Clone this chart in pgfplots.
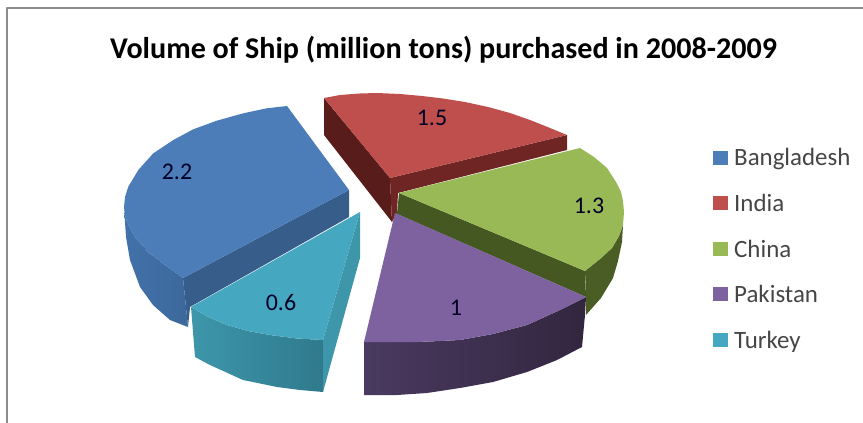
\documentclass[border=0pt]{standalone}
\usepackage{pgfplots}
\pgfplotsset{compat=1.18}
\usepackage{fontspec}
\setmainfont{Carlito}
\definecolor{blueTop}{HTML}{4C7DB8}
\definecolor{blueWallA}{HTML}{4272AA}
\definecolor{blueWallB}{HTML}{3C689C}
\definecolor{blueIn}{HTML}{375D8B}
\definecolor{redTop}{HTML}{BE4F4C}
\definecolor{redIn}{HTML}{6E2523}
\definecolor{redLeft}{HTML}{581D1B}
\definecolor{greenTop}{HTML}{99B956}
\definecolor{greenIn}{HTML}{465822}
\definecolor{greenWall}{HTML}{4A5D24}
\definecolor{purpleTop}{HTML}{7E62A0}
\definecolor{purpleWallA}{HTML}{4A3A60}
\definecolor{purpleWallB}{HTML}{32263F}
\definecolor{tealTop}{HTML}{46A8C0}
\definecolor{tealWallA}{HTML}{3D96AB}
\definecolor{tealWallB}{HTML}{2F7A8C}
\definecolor{tealRight}{HTML}{3D96AA}
\definecolor{legendText}{HTML}{454545}
\definecolor{frameGray}{HTML}{8C8C8C}
\begin{document}
\begin{tikzpicture}
\begin{axis}[
  scale only axis, width=863bp, height=423bp,
  xmin=0, xmax=863, ymin=0, ymax=423, y dir=reverse,
  axis line style={draw=none}, ticks=none, clip=true,
  every axis plot/.append style={draw=none, mark=none, line join=round},
]
% chart frame
\addplot[draw=frameGray, line width=2pt] coordinates {(7,423) (7,8) (863,8)};

% India
\addplot[fill=redLeft] coordinates {(324,98) (390,178) (392,222) (324,135)} -- cycle;
\addplot[fill=redIn] coordinates {(390,178) (567,135) (567,150) (398,193) (397,213) (392,222)} -- cycle;
\addplot[fill=redTop] coordinates {(324,98) (340,95) (360,93.5) (377,93) (400,94) (422,96) (443,98.5) (465,102) (488,107) (510,113) (530,120) (550,128) (567,135) (390,178)} -- cycle;

% China
\addplot[fill=greenIn] coordinates {(399,193) (585,271) (586,297) (397,214)} -- cycle;
\addplot[fill=greenWall] coordinates {(585,271) (600,259) (612,248) (619,236) (623,225) (622,242) (618,261) (613,278) (601,298) (586,315) (586,290)} -- cycle;
\addplot[fill=greenTop] coordinates {(580,148) (594,157) (607,168) (616,182) (621,192) (623,201) (624,212) (623,225) (619,236) (612,248) (600,259) (585,271) (399,193)} -- cycle;

% Pakistan
\addplot[left color=purpleWallA, right color=purpleWallB] coordinates {(364,342) (390,342) (417,342) (440,341) (460,340) (493,334) (527,325) (560,310) (586,297) (585,315) (582,347) (557,360) (527,372) (493,382) (460,388) (427,393) (397,395) (364,395)} -- cycle;
\addplot[fill=purpleTop] coordinates {(395,213) (586,297) (560,310) (527,325) (493,334) (460,340) (440,341) (417,342) (390,342) (364,342)} -- cycle;

% Bangladesh
\addplot[fill=blueIn] coordinates {(183,278) (349,190) (349,217) (190,307) (188,327)} -- cycle;
\addplot[left color=blueWallA, right color=blueWallB] coordinates {(124,207) (125,215) (127,222) (135,237) (148,252) (165,265) (183,278) (188,327) (170,320) (153,305) (140,287) (130,260) (126,237)} -- cycle;
\addplot[fill=blueTop] coordinates {(287,106) (266.7,108.3) (243.3,113.3) (216.7,120.7) (193.3,129.3) (173.3,140) (153.3,153.3) (138.3,170) (128.3,186.7) (125,197) (124,207) (125,215) (127,222) (135,237) (148,252) (165,265) (183,278) (349,190)} -- cycle;

% Turkey
\addplot[left color=tealWallA, right color=tealWallB] coordinates {(191,307) (208,317) (227,325) (248,331) (270,335) (297,338.5) (323,340) (323,392) (300,390) (277,387) (243,380) (210,365) (195,357)} -- cycle;
\addplot[fill=tealRight] coordinates {(323,340) (360,212) (360,258) (323,392)} -- cycle;
\addplot[fill=tealTop] coordinates {(360,212) (191,307) (208,317) (227,325) (248,331) (270,335) (297,338.5) (323,340)} -- cycle;

% legend swatches
\addplot[fill=blueTop]   coordinates {(713,151) (728,151) (728,165) (713,165)} -- cycle;
\addplot[fill=redTop]    coordinates {(713,196) (728,196) (728,210) (713,210)} -- cycle;
\addplot[fill=greenTop]  coordinates {(713,242) (728,242) (728,256) (713,256)} -- cycle;
\addplot[fill=purpleTop] coordinates {(713,287) (728,287) (728,301) (713,301)} -- cycle;
\addplot[fill=tealTop]   coordinates {(713,333) (728,333) (728,347) (713,347)} -- cycle;

% value labels
\addplot[only marks, mark=none, draw=none,
  point meta=explicit symbolic,
  nodes near coords,
  nodes near coords align={center},
  every node near coord/.append style={font=\fontsize{24}{28}\selectfont, text=black!85!blue, inner sep=0pt, anchor=center},
] coordinates {(177,172)[2.2] (432,118)[1.5] (589,206)[1.3] (456,308)[1] (281,303)[0.6]};

\node[font=\bfseries\fontsize{30.2}{34}\selectfont, anchor=center, inner sep=0pt] at (axis cs:443.5,50) {Volume of Ship (million tons) purchased in 2008-2009};
\begin{scope}[every node/.style={font=\fontsize{25}{28}\selectfont, text=legendText, anchor=base west, inner sep=0pt}]
\node at (axis cs:734,165) {Bangladesh};
\node at (axis cs:734,211) {India};
\node at (axis cs:734,257) {China};
\node at (axis cs:734,302) {Pakistan};
\node at (axis cs:734,348) {Turkey};
\end{scope}
\end{axis}
\end{tikzpicture}
\end{document}
